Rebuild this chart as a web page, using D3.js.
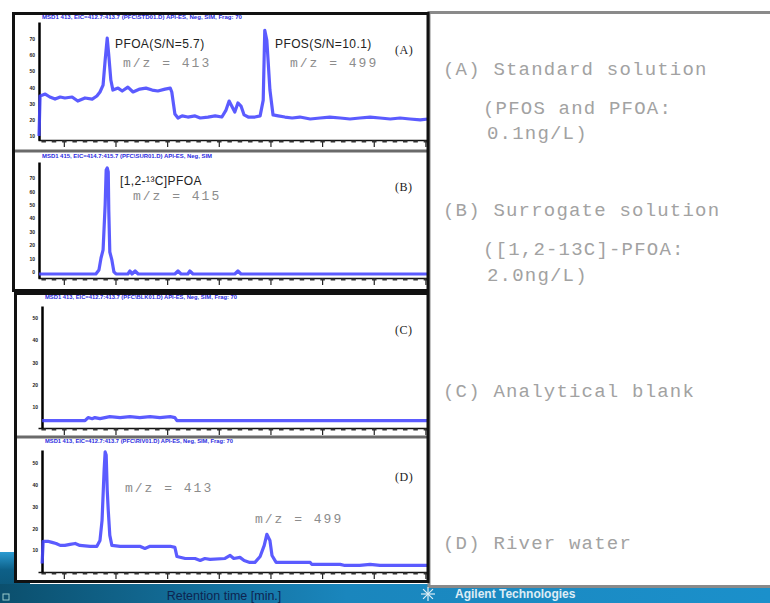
<!DOCTYPE html>
<html>
<head>
<meta charset="utf-8">
<script src="https://cdn.jsdelivr.net/npm/d3@7"></script>
<style>
  html, body { margin: 0; padding: 0; background: #fff; }
  svg { display: block; }
</style>
</head>
<body>
<div id="chart"></div>
<script>
// retention time axis (min)
const timeDomain = [0.5, 8.05];
const timeTicks = [1, 2, 3, 4, 5, 6, 7, 8];
const timeMinor = d3.range(3, 41).map(i => i / 5);

// intensity ticks / domains per panel (x1000 counts)
const yDomainA = [0.75, 8.05], yTicksA = [1, 2, 3, 4, 5, 6, 7];
const yDomainB = [-0.45, 8.2], yTicksB = [0, 1, 2, 3, 4, 5, 6, 7];
const yDomainC = [0.05, 5.55], yTicksC = [1, 2, 3, 4, 5];
const yDomainD = [0, 5.6], yTicksD = [1, 2, 3, 4, 5];

// (A) standard solution, m/z 413 + 499 [time, intensity]
const traceA = [[0.52,1.0],[0.54,3.47],[0.64,3.59],[0.73,3.41],[0.83,3.28],[0.93,3.41],[1.02,3.35],[1.16,3.41],[1.27,3.16],
  [1.41,3.35],[1.55,3.28],[1.64,3.47],[1.70,3.72],[1.76,4.15],[1.80,5.69],[1.84,7.05],[1.87,6.0],[1.91,4.46],[1.95,3.84],
  [2.05,3.96],[2.13,3.78],[2.24,4.02],[2.34,3.72],[2.47,3.9],[2.59,3.96],[2.71,3.84],[2.82,3.78],[2.96,3.9],[3.06,3.96],
  [3.09,3.72],[3.15,2.36],[3.21,2.11],[3.29,2.24],[3.40,2.17],[3.54,2.24],[3.64,2.11],[3.79,2.17],[3.93,2.24],[4.06,2.17],
  [4.14,2.6],[4.20,3.16],[4.26,2.79],[4.31,2.48],[4.37,3.04],[4.43,2.85],[4.49,2.3],[4.57,2.17],[4.70,2.17],[4.80,2.24],
  [4.86,3.22],[4.89,7.54],[4.93,6.92],[4.99,3.84],[5.05,2.3],[5.15,2.24],[5.28,2.17],[5.42,2.11],[5.57,2.17],[5.77,2.05],
  [5.96,2.11],[6.15,2.17],[6.35,2.11],[6.54,2.05],[6.73,2.11],[6.93,2.17],[7.12,2.11],[7.32,2.05],[7.51,2.11],[7.70,2.05],
  [7.90,1.99],[8.05,2.05]];

// (B) surrogate solution, m/z 415
const traceB = [[0.52,-0.15],[1.62,-0.15],[1.68,0.15],[1.72,1.04],[1.76,1.64],[1.80,5.0],[1.82,7.61],[1.84,7.76],[1.86,7.46],
  [1.87,4.63],[1.89,1.49],[1.93,0.9],[1.97,0],[2.01,-0.15],[2.24,-0.15],[2.28,0.07],[2.32,-0.15],[2.38,0.07],[2.44,-0.15],
  [3.15,-0.15],[3.21,0.07],[3.27,-0.15],[3.40,-0.15],[3.44,0.07],[3.50,-0.15],[4.31,-0.15],[4.37,0.07],[4.43,-0.15],[8.05,-0.15]];

// (C) analytical blank
const traceC = [[0.58,0.38],[1.41,0.38],[1.47,0.52],[1.55,0.47],[1.60,0.52],[1.70,0.47],[1.89,0.56],[2.09,0.52],[2.28,0.56],
  [2.47,0.52],[2.67,0.56],[2.86,0.52],[3.06,0.56],[3.15,0.52],[3.19,0.38],[8.05,0.38]];

// (D) river water
const traceD = [[0.58,0.39],[0.60,1.41],[0.69,1.41],[0.77,1.36],[0.85,1.31],[0.93,1.22],[1.02,1.22],[1.12,1.27],[1.22,1.31],
  [1.31,1.22],[1.51,1.18],[1.64,1.18],[1.70,1.45],[1.74,2.37],[1.78,4.68],[1.80,5.51],[1.82,5.37],[1.84,3.76],[1.86,2.83],
  [1.89,1.68],[1.93,1.22],[2.09,1.18],[2.47,1.18],[2.57,1.08],[2.67,1.18],[3.06,1.18],[3.15,1.13],[3.19,0.71],[3.35,0.62],
  [3.54,0.62],[3.64,0.53],[3.73,0.62],[3.83,0.58],[4.12,0.62],[4.22,0.76],[4.29,0.62],[4.41,0.67],[4.49,0.53],[4.60,0.44],
  [4.70,0.44],[4.80,0.71],[4.88,1.22],[4.93,1.73],[4.99,1.45],[5.03,0.76],[5.11,0.44],[5.38,0.44],[5.77,0.44],[5.80,0.35],
  [6.35,0.35],[6.44,0.3],[6.73,0.3],[6.93,0.35],[7.12,0.3],[8.05,0.3]];

const headers = [
  "MSD1 413, EIC=412.7:413.7 (PFC\\STD01.D)  API-ES, Neg, SIM, Frag: 70",
  "MSD1 415, EIC=414.7:415.7 (PFC\\SUR01.D)  API-ES, Neg, SIM",
  "MSD1 413, EIC=412.7:413.7 (PFC\\BLK01.D)  API-ES, Neg, SIM, Frag: 70",
  "MSD1 413, EIC=412.7:413.7 (PFC\\RIV01.D)  API-ES, Neg, SIM, Frag: 70"
];

const legendLines = [
  { text: "(A) Standard solution", x: 443, y: 75 },
  { text: "(PFOS and PFOA:", x: 483, y: 114 },
  { text: "0.1ng/L)", x: 487, y: 139 },
  { text: "(B) Surrogate solution", x: 443, y: 216 },
  { text: "([1,2-13C]-PFOA:", x: 483, y: 255 },
  { text: "2.0ng/L)", x: 487, y: 281 },
  { text: "(C) Analytical blank", x: 443, y: 397 },
  { text: "(D) River water", x: 443, y: 549 }
];

const W = 770, H = 603;

const svg = d3.select("#chart").append("svg")
  .attr("width", W).attr("height", H);

const defs = svg.append("defs");
const bandGrad = defs.append("linearGradient").attr("id", "band")
  .attr("x1", "0%").attr("x2", "100%");
bandGrad.append("stop").attr("offset", "0%").attr("stop-color", "#0b4f6d");
bandGrad.append("stop").attr("offset", "45%").attr("stop-color", "#1a86bd");
bandGrad.append("stop").attr("offset", "100%").attr("stop-color", "#1b90cb");
const swoosh = defs.append("linearGradient").attr("id", "swoosh")
  .attr("x1", "0%").attr("x2", "0%").attr("y1", "0%").attr("y2", "100%");
swoosh.append("stop").attr("offset", "0%").attr("stop-color", "#2b9bd2");
swoosh.append("stop").attr("offset", "35%").attr("stop-color", "#0d6088");
swoosh.append("stop").attr("offset", "100%").attr("stop-color", "#0b4f6d");

// slide background pieces
svg.append("rect").attr("x", 0).attr("y", 552).attr("width", 30).attr("height", 51)
  .attr("fill", "url(#swoosh)");
svg.append("rect").attr("x", 0).attr("y", 584).attr("width", W).attr("height", 19)
  .attr("fill", "url(#band)");
svg.append("rect").attr("x", 3).attr("y", 594).attr("width", 6).attr("height", 6)
  .attr("fill", "none").attr("stroke", "#9cc").attr("stroke-width", 1);

// right text box
svg.append("rect").attr("x", 429).attr("y", 12.5).attr("width", 350).attr("height", 574)
  .attr("fill", "#fff").attr("stroke", "#8a8a8a").attr("stroke-width", 3);

svg.append("g").selectAll("text")
  .data(legendLines)
  .join("text")
  .attr("x", d => d.x).attr("y", d => d.y)
  .attr("fill", "#a2a2a2")
  .style("font-family", "'Liberation Mono', 'DejaVu Sans Mono', monospace")
  .style("font-size", "19px")
  .style("letter-spacing", "1.2px")
  .text(d => d.text);

// agilent logo + name on the band
const logo = svg.append("g").attr("transform", "translate(428,594)")
  .attr("stroke", "#fff").attr("stroke-width", 1.2).attr("opacity", 0.85);
[0, 45, 90, 135].forEach(a => {
  const r = a * Math.PI / 180;
  logo.append("line")
    .attr("x1", -7 * Math.cos(r)).attr("y1", -7 * Math.sin(r))
    .attr("x2", 7 * Math.cos(r)).attr("y2", 7 * Math.sin(r));
});
svg.append("text").attr("x", 455).attr("y", 598)
  .attr("fill", "#fff").attr("opacity", 0.85)
  .style("font-family", "'Liberation Sans', Arial, sans-serif")
  .style("font-size", "12px").style("font-weight", "bold")
  .text("Agilent Technologies");

// plot frames
svg.append("rect").attr("x", 13.5).attr("y", 13.5).attr("width", 414.5).attr("height", 277)
  .attr("fill", "#fff");
svg.append("rect").attr("x", 15.5).attr("y", 293.5).attr("width", 412.5).attr("height", 288)
  .attr("fill", "#fff");

const x = d3.scaleLinear().domain(timeDomain).range([38, 428]);

const panels = [
  { key: "A", trace: traceA, dom: yDomainA, ticks: yTicksA, range: [140, 22], axisX: 39, header: headers[0], hx: 42, hy: 19, hw: 200 },
  { key: "B", trace: traceB, dom: yDomainB, ticks: yTicksB, range: [278, 162], axisX: 39, header: headers[1], hx: 42, hy: 158, hw: 170 },
  { key: "C", trace: traceC, dom: yDomainC, ticks: yTicksC, range: [428, 306], axisX: 42, header: headers[2], hx: 45, hy: 299, hw: 192 },
  { key: "D", trace: traceD, dom: yDomainD, ticks: yTicksD, range: [572, 450], axisX: 42, header: headers[3], hx: 45, hy: 443, hw: 188 }
];

const annotations = {
  A: [
    { text: "PFOA(S/N=5.7)", x: 115, y: 48, kind: "name" },
    { text: "m/z = 413", x: 123, y: 67, kind: "mz" },
    { text: "PFOS(S/N=10.1)", x: 275, y: 48, kind: "name" },
    { text: "m/z = 499", x: 290, y: 67, kind: "mz" },
    { text: "(A)", x: 395, y: 54, kind: "tag" }
  ],
  B: [
    { text: "[1,2-\u00B9\u00B3C]PFOA", x: 120, y: 185, kind: "name" },
    { text: "m/z = 415", x: 133, y: 200, kind: "mz" },
    { text: "(B)", x: 395, y: 191, kind: "tag" }
  ],
  C: [{ text: "(C)", x: 395, y: 334, kind: "tag" }],
  D: [
    { text: "m/z = 413", x: 125, y: 492, kind: "mz" },
    { text: "m/z = 499", x: 255, y: 523, kind: "mz" },
    { text: "(D)", x: 395, y: 481, kind: "tag" }
  ]
};

panels.forEach(p => {
  const y = d3.scaleLinear().domain(p.dom).range(p.range);
  const g = svg.append("g").attr("class", "panel-" + p.key);

  // tiny blue data-file header
  g.append("text")
    .attr("x", p.hx).attr("y", p.hy)
    .attr("textLength", p.hw).attr("lengthAdjust", "spacingAndGlyphs")
    .attr("fill", "#2a2ae0")
    .style("font-family", "'Liberation Sans', Arial, sans-serif")
    .style("font-size", "5.5px").style("font-weight", "bold")
    .text(p.header);

  // x axis: major ticks below, minor dashes on the line
  const xa = g.append("g")
    .attr("transform", `translate(0,${p.range[0]})`)
    .call(d3.axisBottom(x).tickValues(timeTicks).tickSize(7).tickSizeOuter(0).tickFormat(""));
  xa.select(".domain").attr("stroke", "#111").attr("stroke-width", 1.6);
  xa.selectAll(".tick line").attr("stroke", "#222").attr("stroke-width", 1.2);

  const xm = g.append("g")
    .attr("transform", `translate(0,${p.range[0] + 0.5})`)
    .call(d3.axisBottom(x).tickValues(timeMinor).tickSize(2).tickFormat(""));
  xm.select(".domain").remove();
  xm.selectAll(".tick line").attr("stroke", "#333").attr("stroke-width", 4.5);

  // y axis
  const ya = g.append("g")
    .attr("transform", `translate(${p.axisX},0)`)
    .call(d3.axisLeft(y).tickValues(p.ticks).tickSize(0).tickSizeOuter(0).tickPadding(4)
      .tickFormat(d => d3.format("d")(d * 10)));
  ya.select(".domain").attr("stroke", "#000").attr("stroke-width", 2.5);
  ya.selectAll(".tick text")
    .attr("fill", "#222")
    .style("font-family", "'Liberation Sans', Arial, sans-serif")
    .style("font-size", "5px").style("font-weight", "bold");

  // chromatogram trace
  const line = d3.line().x(d => x(d[0])).y(d => y(d[1]));
  g.append("path")
    .datum(p.trace)
    .attr("d", line)
    .attr("fill", "none")
    .attr("stroke", "#4444ff")
    .attr("stroke-width", 3.2)
    .attr("stroke-linejoin", "round")
    .attr("opacity", 0.88);

  // annotations
  g.selectAll("text.ann")
    .data(annotations[p.key])
    .join("text")
    .attr("class", "ann")
    .attr("x", d => d.x).attr("y", d => d.y)
    .attr("fill", d => d.kind === "mz" ? "#8c8c8c" : "#222")
    .style("font-family", d => d.kind === "mz" ? "'Liberation Mono', monospace"
      : d.kind === "tag" ? "'Liberation Serif', serif" : "'Liberation Sans', Arial, sans-serif")
    .style("font-size", d => d.kind === "mz" ? "13px" : "12px")
    .style("letter-spacing", d => d.kind === "mz" ? "2px" : d.kind === "name" ? "0.4px" : "0.5px")
    .text(d => d.text);
});

// separators between stacked panels
svg.append("line").attr("x1", 14).attr("x2", 427).attr("y1", 151).attr("y2", 151)
  .attr("stroke", "#6a6a6a").attr("stroke-width", 3);
svg.append("line").attr("x1", 16).attr("x2", 427).attr("y1", 437).attr("y2", 437)
  .attr("stroke", "#6a6a6a").attr("stroke-width", 3);

// outer frames on top
svg.append("rect").attr("x", 13.5).attr("y", 13.5).attr("width", 414.5).attr("height", 277)
  .attr("fill", "none").attr("stroke", "#111").attr("stroke-width", 3);
svg.append("rect").attr("x", 15.5).attr("y", 293.5).attr("width", 412.5).attr("height", 288)
  .attr("fill", "none").attr("stroke", "#111").attr("stroke-width", 3);

// x axis title on the band
svg.append("text")
  .attr("x", 224).attr("y", 600)
  .attr("text-anchor", "middle")
  .attr("fill", "#0d2450")
  .style("font-family", "'Liberation Sans', Arial, sans-serif")
  .style("font-size", "12.5px")
  .text("Retention time [min.]");
</script>
</body>
</html>
